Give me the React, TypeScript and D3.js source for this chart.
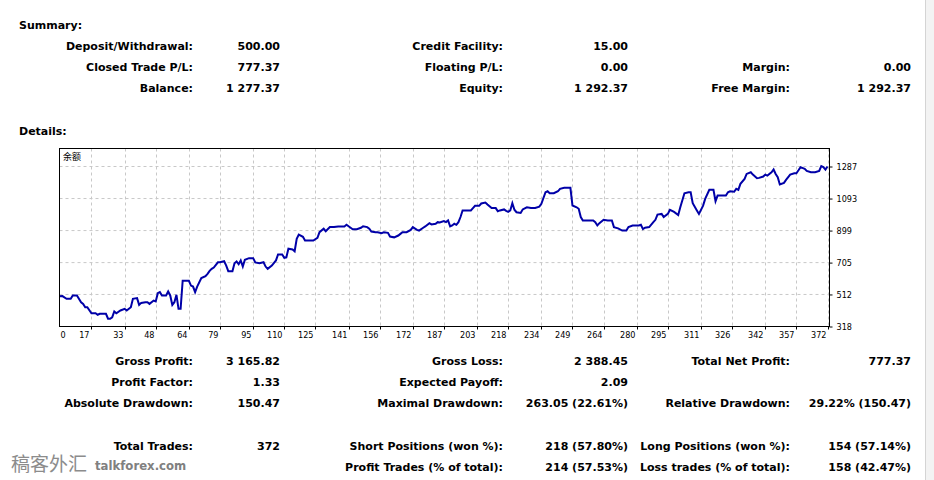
import React, { useRef, useEffect } from 'react';
import * as d3 from 'd3';

// balance curve (trade #, balance)
const trades = [
  0, 3, 5, 7, 8, 10, 12, 13, 14, 15, 17, 19, 20, 21, 24, 25, 26, 27, 28, 29, 31, 33, 34, 36, 37, 39, 40, 41, 43, 44,
  45, 47, 48, 49, 50, 51, 53, 54, 55, 56, 57, 58, 59, 60, 61, 63, 64, 65, 66, 67, 68, 70, 72, 73, 74, 75, 76, 78, 79,
  81, 82, 83, 85, 86, 87, 88, 89, 90, 91, 93, 95, 96, 98, 100, 101, 102, 104, 106, 107, 109, 110, 111, 112, 114, 115,
  116, 117, 119, 120, 124, 126, 127, 129, 130, 132, 134, 136, 139, 140, 142, 143, 145, 147, 148, 150, 151, 152, 154,
  155, 157, 158, 160, 161, 163, 165, 166, 167, 169, 171, 172, 174, 175, 177, 178, 180, 181, 183, 184, 185, 187, 188,
  189, 190, 191, 192, 193, 194, 195, 196, 200, 201, 202, 204, 205, 207, 208, 210, 212, 213, 214, 216, 217, 218, 219,
  220, 221, 222, 224, 225, 227, 229, 231, 233, 234, 236, 237, 238, 240, 242, 243, 245, 248, 249, 251, 252, 253, 254,
  259, 260, 261, 262, 264, 266, 268, 269, 271, 273, 275, 276, 278, 281, 282, 283, 284, 286, 288, 289, 290, 292, 293,
  295, 296, 298, 300, 301, 303, 305, 306, 307, 309, 310, 312, 313, 315, 317, 318, 319, 323, 324, 325, 327, 328, 329,
  330, 332, 333, 335, 336, 338, 339, 341, 342, 343, 345, 346, 347, 348, 349, 351, 352, 354, 356, 357, 358, 359, 361,
  362, 364, 366, 368, 369, 370, 371, 372,
];
const balances = [
  500, 502, 486, 486, 506, 506, 465, 455, 435, 435, 398, 398, 389, 395, 395, 365, 365, 374, 409, 398, 415, 425, 415,
  435, 486, 490, 449, 461, 465, 465, 455, 475, 470, 520, 526, 506, 506, 530, 506, 449, 465, 510, 425, 425, 595, 595,
  595, 566, 560, 526, 560, 611, 623, 637, 655, 667, 675, 707, 707, 713, 687, 653, 653, 701, 712, 695, 718, 681, 722,
  732, 732, 706, 701, 707, 681, 667, 687, 718, 754, 754, 734, 737, 789, 785, 774, 849, 875, 861, 839, 839, 855, 889,
  910, 895, 920, 920, 924, 924, 934, 916, 907, 907, 916, 925, 920, 910, 893, 889, 889, 883, 889, 885, 863, 858, 869,
  879, 889, 889, 903, 920, 903, 899, 916, 924, 944, 936, 940, 950, 948, 956, 950, 960, 924, 930, 940, 934, 950, 981,
  1021, 1021, 1035, 1049, 1049, 1063, 1069, 1057, 1035, 1035, 1016, 1021, 1027, 1018, 1012, 1021, 1065, 1025, 1010,
  1006, 1027, 1040, 1036, 1036, 1044, 1061, 1131, 1137, 1125, 1125, 1137, 1152, 1158, 1158, 1051, 1040, 1031, 981,
  960, 960, 950, 930, 944, 964, 960, 960, 920, 912, 899, 899, 920, 930, 930, 934, 908, 916, 920, 950, 964, 996, 1000,
  981, 1000, 1025, 1012, 993, 1040, 1125, 1131, 1131, 1065, 1021, 1000, 1050, 1091, 1146, 1146, 1077, 1111, 1111,
  1131, 1137, 1134, 1152, 1146, 1182, 1212, 1242, 1252, 1238, 1216, 1218, 1226, 1238, 1232, 1252, 1269, 1242, 1222,
  1178, 1188, 1206, 1238, 1246, 1246, 1264, 1283, 1273, 1260, 1252, 1252, 1260, 1289, 1283, 1268, 1287,
];

const xTicks = [0, 17, 33, 48, 64, 79, 95, 110, 125, 141, 156, 172, 187, 203, 218, 234, 249, 264, 280, 295, 311, 326, 342, 357, 372];
const yTicks = [318, 512, 705, 899, 1093, 1287];
const seriesName = '余额';

// report tables: [label, value] pairs in three columns
const summaryRows = [
  ['Deposit/Withdrawal:', '500.00', 'Credit Facility:', '15.00', '', ''],
  ['Closed Trade P/L:', '777.37', 'Floating P/L:', '0.00', 'Margin:', '0.00'],
  ['Balance:', '1 277.37', 'Equity:', '1 292.37', 'Free Margin:', '1 292.37'],
];
const detailRows = [
  ['Gross Profit:', '3 165.82', 'Gross Loss:', '2 388.45', 'Total Net Profit:', '777.37'],
  ['Profit Factor:', '1.33', 'Expected Payoff:', '2.09', '', ''],
  ['Absolute Drawdown:', '150.47', 'Maximal Drawdown:', '263.05 (22.61%)', 'Relative Drawdown:', '29.22% (150.47)'],
];
const tradeRows = [
  ['Total Trades:', '372', 'Short Positions (won %):', '218 (57.80%)', 'Long Positions (won %):', '154 (57.14%)'],
  ['', '', 'Profit Trades (% of total):', '214 (57.53%)', 'Loss trades (% of total):', '158 (42.47%)'],
];

const W = 934;
const H = 480;
const colRight = [193, 280, 503, 628, 790, 911];
const textFont = "'DejaVu Sans', sans-serif";

const App: React.FC = () => {
  const ref = useRef<SVGSVGElement | null>(null);

  useEffect(() => {
    if (!ref.current) return;
    const svg = d3.select(ref.current);
    svg.selectAll('*').remove();

    svg.append('rect').attr('width', W).attr('height', H).attr('fill', '#fff');
    // right edge of the report window
    svg.append('rect').attr('x', 926).attr('width', 8).attr('height', H).attr('fill', '#f3f3f3');
    svg.append('line').attr('x1', 925.5).attr('x2', 925.5).attr('y1', 0).attr('y2', H).attr('stroke', '#d4d4d4');

    const txt = svg
      .append('g')
      .attr('font-family', textFont)
      .attr('font-size', 11)
      .attr('font-weight', 'bold')
      .attr('fill', '#000');

    txt.append('text').attr('x', 19).attr('y', 29).text('Summary:');
    txt.append('text').attr('x', 19).attr('y', 135).text('Details:');

    const drawRows = (rows: string[][], y0: number, step: number) => {
      rows.forEach((row, i) => {
        row.forEach((s, j) => {
          if (!s) return;
          txt
            .append('text')
            .attr('x', colRight[j])
            .attr('y', y0 + i * step)
            .attr('text-anchor', 'end')
            .text(s);
        });
      });
    };
    drawRows(summaryRows, 50, 21);
    drawRows(detailRows, 365, 21);
    drawRows(tradeRows, 450, 21);

    // chart
    const left = 59.5, right = 829.5, top = 148.5, bottom = 326.5;
    const x = d3.scaleLinear().domain([0, 372]).range([56.2, 827.5]);
    const y = d3.scaleLinear().domain([318, 1287]).range([bottom, 166.5]);

    const grid = svg.append('g').attr('stroke', '#c8c8c8').attr('stroke-dasharray', '3,3');
    xTicks.slice(1).forEach((t) => {
      grid.append('line').attr('x1', Math.round(x(t)) + 0.5).attr('x2', Math.round(x(t)) + 0.5).attr('y1', top).attr('y2', bottom);
    });
    yTicks.slice(1).forEach((t) => {
      grid.append('line').attr('x1', left).attr('x2', right).attr('y1', y(t)).attr('y2', y(t));
    });

    svg.append('clipPath').attr('id', 'plot').append('rect').attr('x', left).attr('y', top).attr('width', right - left).attr('height', bottom - top);

    const pts = trades.map((t, i) => [t, balances[i]] as [number, number]);
    svg
      .append('path')
      .datum(pts)
      .attr('clip-path', 'url(#plot)')
      .attr('fill', 'none')
      .attr('stroke', '#0000a8')
      .attr('stroke-width', 2)
      .attr(
        'd',
        d3
          .line<[number, number]>()
          .x((d) => x(d[0]))
          .y((d) => y(d[1]))
      );

    svg
      .append('rect')
      .attr('x', left)
      .attr('y', top)
      .attr('width', right - left)
      .attr('height', bottom - top)
      .attr('fill', 'none')
      .attr('stroke', '#000');

    // axes
    const xAxis = svg
      .append('g')
      .attr('transform', `translate(0,${bottom})`)
      .call(
        d3
          .axisBottom(x)
          .tickValues(xTicks)
          .tickSize(3)
          .tickSizeOuter(0)
          .tickFormat((d) => String(d))
      );
    xAxis.select('.domain').remove();
    xAxis.selectAll('.tick').attr('transform', (d: any) => `translate(${Math.round(x(d)) + 0.5},0)`);
    xAxis.selectAll('.tick line').attr('stroke', '#000').filter((d: any) => d === 0).remove();
    xAxis
      .selectAll('.tick text')
      .attr('font-family', textFont)
      .attr('font-size', 9)
      .attr('font-stretch', 'condensed')
      .attr('fill', '#000')
      .attr('dy', null)
      .attr('y', 11)
      .attr('text-anchor', (d: any) => (d === 0 ? 'start' : 'end'))
      .attr('x', (d: any) => (d === 0 ? 4 : -2));

    const yAxis = svg
      .append('g')
      .attr('transform', `translate(${right},0)`)
      .call(
        d3
          .axisRight(y)
          .tickValues(yTicks)
          .tickSize(3)
          .tickPadding(4)
          .tickSizeOuter(0)
          .tickFormat(d3.format('d'))
      );
    yAxis.select('.domain').remove();
    yAxis.selectAll('.tick line').attr('stroke', '#000');
    yAxis
      .selectAll('.tick text')
      .attr('font-family', textFont)
      .attr('font-size', 9)
      .attr('font-stretch', 'condensed')
      .attr('fill', '#000');

    svg
      .append('text')
      .attr('x', 63)
      .attr('y', 160)
      .attr('font-family', "'Noto Sans CJK SC', sans-serif")
      .attr('font-size', 9)
      .attr('fill', '#000')
      .text(seriesName);

    // watermark
    svg
      .append('text')
      .attr('x', 11)
      .attr('y', 471)
      .attr('font-family', "'Noto Sans CJK SC', sans-serif")
      .attr('font-size', 19)
      .attr('fill', '#8c8c8c')
      .text('稿客外汇');
    svg
      .append('text')
      .attr('x', 95)
      .attr('y', 470)
      .attr('font-family', textFont)
      .attr('font-size', 13)
      .attr('font-weight', 'bold')
      .attr('font-stretch', 'condensed')
      .attr('fill', '#808080')
      .text('talkforex.com');
  }, []);

  return (
    <div style={{ position: 'fixed', left: 0, top: 0 }}>
      <svg ref={ref} width={W} height={H} style={{ display: 'block' }} />
    </div>
  );
};

export default App;
